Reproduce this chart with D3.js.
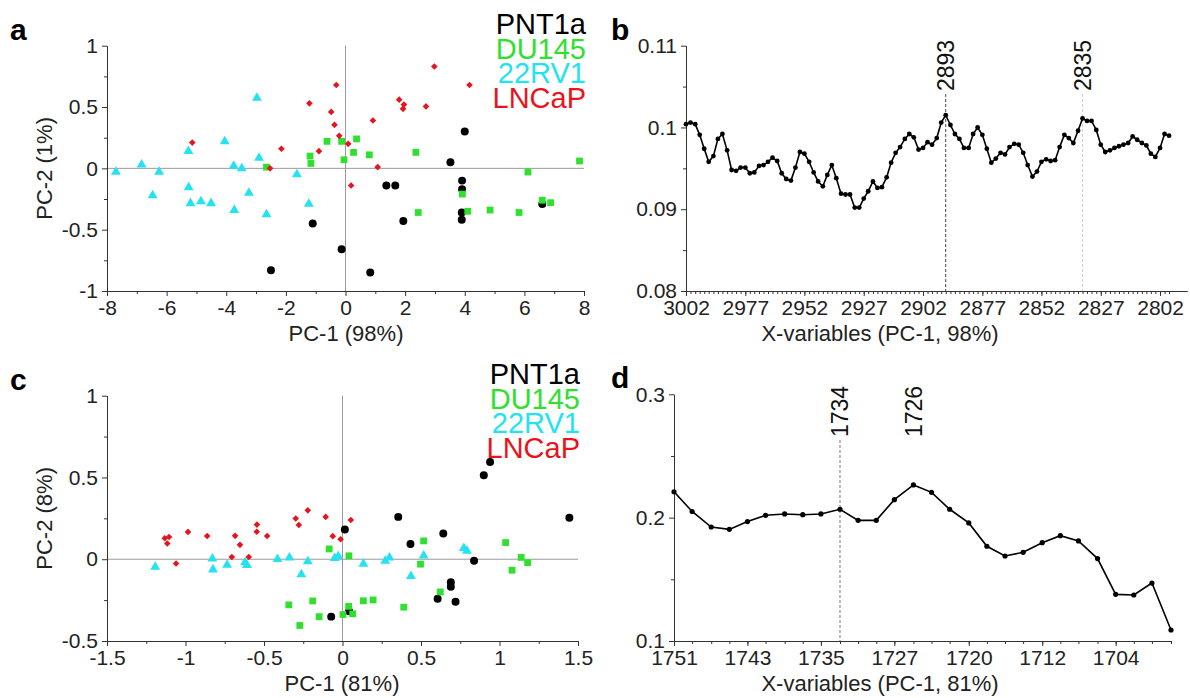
<!DOCTYPE html>
<html>
<head>
<meta charset="utf-8">
<script src="https://cdn.jsdelivr.net/npm/d3@7"></script>
<style>
  body { margin: 0; background: #fff; }
  text { font-family: Arial, "Liberation Sans", sans-serif; }
</style>
</head>
<body>
<svg id="fig" width="1190" height="698"></svg>
<script>
// ---------- data ----------
// panel a: PCA scores (PC-1 98%, PC-2 1%)
const aPNT1a = [[-2.5,-0.83],[-1.1,-0.45],[-0.13,-0.66],[0.83,-0.85],[1.37,-0.14],[1.67,-0.14],[1.94,-0.43],
  [3.52,0.05],[4.0,0.3],[3.91,-0.1],[3.91,-0.17],[3.9,-0.36],[3.9,-0.42],[6.6,-0.29]];
const aDU145 = [[-2.65,0.01],[-1.19,0.1],[-1.16,0.04],[-0.62,0.22],[-0.13,0.22],[-0.05,0.07],[0.27,0.13],[0.37,0.24],
  [0.8,0.11],[2.36,0.13],[2.44,-0.36],[3.92,-0.21],[4.1,-0.35],[4.85,-0.34],[5.82,-0.36],[6.12,-0.03],[6.6,-0.26],
  [6.88,-0.28],[7.85,0.06]];
const a22RV1 = [[-7.7,-0.03],[-6.84,0.03],[-6.25,-0.03],[-6.47,-0.22],[-5.27,0.14],[-5.26,-0.155],[-5.2,-0.285],
  [-4.85,-0.27],[-4.51,-0.285],[-4.05,0.22],[-3.75,0.02],[-3.48,0.0],[-3.73,-0.34],[-3.24,-0.2],[-2.97,0.575],
  [-2.9,0.085],[-2.65,-0.375],[-1.63,-0.05],[-1.23,-0.29]];
const aLNCaP = [[-5.14,0.21],[-2.53,0.0],[-2.15,0.16],[-1.21,0.53],[-0.89,0.14],[-0.48,0.46],[-0.37,0.355],[-0.31,0.68],
  [-0.21,0.265],[0.09,0.2],[0.19,-0.14],[0.92,0.39],[1.08,0.01],[1.8,0.56],[1.96,0.52],[1.93,0.485],[2.7,0.505],
  [2.98,0.83],[4.16,0.68]];

// panel c: PCA scores (PC-1 81%, PC-2 8%)
const cPNT1a = [[0.94,0.595],[0.9,0.513],[1.445,0.254],[0.355,0.259],[0.015,0.182],[0.642,0.158],[0.433,0.093],
  [0.838,-0.009],[0.69,-0.14],[0.69,-0.168],[0.606,-0.241],[0.72,-0.26],[-0.072,-0.351],[0.042,-0.318]];
const cDU145 = [[-0.085,0.063],[0.041,0.021],[0.517,0.112],[0.497,-0.03],[0.623,-0.2],[1.039,0.102],[1.08,-0.067],
  [1.138,0.011],[1.179,-0.021],[-0.342,-0.279],[-0.19,-0.255],[-0.272,-0.405],[-0.149,-0.351],[0.039,-0.288],
  [0.003,-0.338],[0.065,-0.334],[0.133,-0.254],[0.195,-0.249],[0.39,-0.293]];
const c22RV1 = [[-1.193,-0.047],[-0.829,0.003],[-0.825,-0.063],[-0.735,-0.035],[-0.621,-0.02],[-0.608,-0.036],
  [-0.414,0.0],[-0.338,0.01],[-0.262,-0.093],[-0.221,-0.014],[-0.05,0.007],[-0.027,0.019],[0.133,-0.028],
  [0.272,-0.01],[0.299,0.009],[0.436,-0.103],[0.517,0.022],[0.773,0.068],[0.793,0.051]];
const cLNCaP = [[-1.132,0.128],[-1.105,0.136],[-1.116,0.096],[-1.06,-0.026],[-0.984,0.167],[-0.862,0.142],
  [-0.684,0.143],[-0.653,0.088],[-0.705,0.014],[-0.597,0.014],[-0.545,0.212],[-0.546,0.168],[-0.48,0.142],
  [-0.298,0.249],[-0.278,0.209],[-0.221,0.299],[-0.107,0.259],[-0.062,0.141],[-0.012,0.122],[0.053,0.24]];

const groupNames = ["PNT1a", "DU145", "22RV1", "LNCaP"];

// panel b: loadings, 3002-2797 cm-1
const wnB = [3002.0,3000.1,2998.1,2996.2,2994.3,2992.4,2990.4,2988.5,2986.6,2984.6,2982.7,2980.8,2978.9,2976.9,
  2975.0,2973.1,2971.1,2969.2,2967.3,2965.4,2963.4,2961.5,2959.6,2957.6,2955.7,2953.8,2951.9,2949.9,2948.0,2946.1,
  2944.1,2942.2,2940.3,2938.4,2936.4,2934.5,2932.6,2930.6,2928.7,2926.8,2924.9,2922.9,2921.0,2919.1,2917.1,2915.2,
  2913.3,2911.4,2909.4,2907.5,2905.6,2903.6,2901.7,2899.8,2897.9,2895.9,2894.0,2892.1,2890.1,2888.2,2886.3,2884.4,
  2882.4,2880.5,2878.6,2876.6,2874.7,2872.8,2870.9,2868.9,2867.0,2865.1,2863.1,2861.2,2859.3,2857.4,2855.4,2853.5,
  2851.6,2849.6,2847.7,2845.8,2843.9,2841.9,2840.0,2838.1,2836.1,2834.2,2832.3,2830.4,2828.4,2826.5,2824.6,2822.6,
  2820.7,2818.8,2816.9,2814.9,2813.0,2811.1,2809.1,2807.2,2805.3,2803.4,2801.4,2799.5,2797.6];
const loadB = [0.1004,0.1006,0.1004,0.0991,0.0974,0.0958,0.0965,0.0986,0.0992,0.0972,0.0948,0.0947,0.0951,0.0951,
  0.0944,0.0945,0.0953,0.0954,0.0958,0.0963,0.0959,0.0944,0.0937,0.0935,0.0951,0.0970,0.0968,0.0958,
  0.0945,0.0934,0.0928,0.0942,0.0954,0.0938,0.0919,0.0918,0.0918,0.0902,0.0902,0.0913,0.0922,0.0934,0.0926,0.0927,
  0.0939,0.0957,0.0969,0.0976,0.0986,0.0992,0.0988,0.0973,0.0975,0.0982,
  0.0979,0.0987,0.1006,0.1015,0.1003,0.0992,0.0986,0.0975,0.0975,0.0992,0.1000,0.0991,0.0974,0.0957,0.0962,0.0969,
  0.0967,0.0976,0.0980,0.0979,0.0969,0.0954,0.0940,0.0946,0.0958,0.0961,
  0.0959,0.0960,0.0976,0.0991,0.0987,0.0981,0.0996,0.1011,0.1008,0.1008,0.0997,0.0979,0.0970,0.0972,0.0975,0.0977,
  0.0979,0.0981,0.0989,0.0985,0.0981,0.0978,0.0968,0.0964,0.0975,0.0992,0.0990];
const tickWnB = [3002.0, 2976.9, 2951.9, 2926.8, 2901.7, 2876.6, 2851.6, 2826.5, 2801.4];
const tickLabelB = ["3002","2977","2952","2927","2902","2877","2852","2827","2802"];
const peakWnB = [2892.1, 2834.2];
const peakLabelB = ["2893", "2835"];

// panel d: loadings, 1751-1699 cm-1
const wnD = [1751.0,1749.1,1747.1,1745.2,1743.3,1741.4,1739.4,1737.5,1735.6,1733.6,1731.7,1729.8,1727.9,1725.9,
  1724.0,1722.1,1720.1,1718.2,1716.3,1714.4,1712.4,1710.5,1708.6,1706.6,1704.7,1702.8,1700.9,1698.9];
const loadD = [0.221,0.205,0.1924,0.1905,0.1968,0.2019,0.203,0.2024,0.203,0.2068,0.1978,0.1978,0.2146,0.2265,
  0.2205,0.2068,0.1957,0.1768,0.1689,0.1719,0.1797,0.1854,0.1811,0.1668,0.1378,0.1373,0.147,0.1089];
const tickWnD = [1751.0, 1743.3, 1735.6, 1727.9, 1720.1, 1712.4, 1704.7];
const tickLabelD = ["1751","1743","1735","1727","1720","1712","1704"];
const peakWnD = [1733.6, 1725.9];
const peakLabelD = ["1734", "1726"];

// ---------- drawing ----------
const svg = d3.select("#fig");
const colors = ["#000000", "#2fe02f", "#25e2f0", "#e8141c"];
const symbols = [d3.symbolCircle, d3.symbolSquare, d3.symbolTriangle, d3.symbolSquare];
const symSizes = [50, 46, 42, 22];
const fmt = d => String(d);

function styleAxis(sel, fontSize) {
  sel.select(".domain").attr("stroke", "#333");
  sel.selectAll(".tick line").attr("stroke", "#333");
  sel.selectAll(".tick text").attr("fill", "#222").style("font-size", fontSize + "px");
}

function drawAxes(g, x, y, o) {
  const gx = g.append("g").attr("transform", `translate(0,${o.bottom})`)
    .call(d3.axisBottom(x).tickValues(o.xTicks).tickSize(5).tickSizeOuter(0).tickPadding(4)
      .tickFormat(o.xFmt || fmt));
  styleAxis(gx, 21);
  const gxm = g.append("g").attr("transform", `translate(0,${o.bottom})`)
    .call(d3.axisBottom(x).tickValues(o.xMinor).tickSize(3).tickSizeOuter(0).tickFormat(""));
  styleAxis(gxm, 21);
  const gy = g.append("g").attr("transform", `translate(${o.left},0)`)
    .call(d3.axisLeft(y).tickValues(o.yTicks).tickSize(5).tickSizeOuter(0).tickPadding(4).tickFormat(fmt));
  styleAxis(gy, 21);
  const gym = g.append("g").attr("transform", `translate(${o.left},0)`)
    .call(d3.axisLeft(y).tickValues(o.yMinor).tickSize(3).tickSizeOuter(0).tickFormat(""));
  styleAxis(gym, 21);

  // axis titles
  g.append("text").attr("x", o.xTitleX).attr("y", o.bottom + 50)
    .attr("text-anchor", "middle").style("font-size", "22px").attr("fill", "#222").text(o.xTitle);
  if (o.yTitle) {
    g.append("text")
      .attr("transform", `translate(${o.left - 55},${(o.top + o.bottom) / 2}) rotate(-90)`)
      .attr("text-anchor", "middle").style("font-size", "22px").attr("fill", "#222").text(o.yTitle);
  }
  // panel letter
  g.append("text").attr("x", o.letterX).attr("y", o.top - 6)
    .style("font-size", "30px").style("font-weight", "bold").text(o.letter);
}

function drawScatter(o) {
  const g = svg.append("g");
  const x = d3.scaleLinear().domain(o.xDomain).range([o.left, o.right]);
  const y = d3.scaleLinear().domain(o.yDomain).range([o.bottom, o.top]);

  // zero reference lines
  g.append("line").attr("x1", x(0)).attr("x2", x(0)).attr("y1", o.top).attr("y2", o.bottom)
    .attr("stroke", "#9a9a9a").attr("stroke-width", 1);
  g.append("line").attr("x1", o.left).attr("x2", o.right).attr("y1", y(0)).attr("y2", y(0))
    .attr("stroke", "#9a9a9a").attr("stroke-width", 1);

  drawAxes(g, x, y, o);

  o.series.forEach((pts, k) => {
    g.append("g").selectAll("path").data(pts).join("path")
      .attr("d", d3.symbol().type(symbols[k]).size(symSizes[k]))
      .attr("transform", d => `translate(${x(d[0])},${y(d[1])})` + (k === 3 ? " rotate(45)" : ""))
      .attr("fill", colors[k]);
  });

  // legend
  g.append("g").selectAll("text").data(groupNames).join("text")
    .attr("x", o.right + 2).attr("y", (d, i) => o.legendY + i * 24.5)
    .attr("text-anchor", "end").style("font-size", "29px")
    .attr("fill", (d, i) => colors[i]).text(d => d);
}

function drawLoadings(o) {
  const g = svg.append("g");
  const x = d3.scaleLinear().domain(o.xDomain).range([o.left, o.right]);
  const y = d3.scaleLinear().domain(o.yDomain).range([o.bottom, o.top]);

  drawAxes(g, x, y, o);

  // marked peaks
  o.peakWn.forEach((wn, i) => {
    g.append("line").attr("x1", x(wn)).attr("x2", x(wn)).attr("y1", o.peakTextY + 3).attr("y2", o.bottom)
      .attr("stroke", o.peakColors[i]).attr("stroke-width", 1).attr("stroke-dasharray", "3,2");
    g.append("text")
      .attr("transform", `translate(${x(wn)},${o.peakTextY}) rotate(-90)`)
      .attr("dy", "0.36em").style("font-size", "23px").attr("fill", "#111").text(o.peakLabels[i]);
  });

  const pts = o.wn.map((w, i) => [w, o.vals[i]]);
  g.append("path").datum(pts)
    .attr("d", d3.line().x(d => x(d[0])).y(d => y(d[1])))
    .attr("fill", "none").attr("stroke", "#000").attr("stroke-width", 1.6);
  g.append("g").selectAll("circle").data(pts).join("circle")
    .attr("cx", d => x(d[0])).attr("cy", d => y(d[1])).attr("r", o.dotR).attr("fill", "#000");
}

// a
drawScatter({
  series: [aPNT1a, aDU145, a22RV1, aLNCaP],
  xDomain: [-8, 8], yDomain: [-1, 1], left: 107, right: 584, top: 45.7, bottom: 291,
  xTicks: [-8, -6, -4, -2, 0, 2, 4, 6, 8], xMinor: [-7, -5, -3, -1, 1, 3, 5, 7],
  yTicks: [-1, -0.5, 0, 0.5, 1], yMinor: [-0.75, -0.25, 0.25, 0.75],
  xTitle: "PC-1 (98%)", xTitleX: 346, yTitle: "PC-2 (1%)",
  letter: "a", letterX: 10, legendY: 34
});

// c
drawScatter({
  series: [cPNT1a, cDU145, c22RV1, cLNCaP],
  xDomain: [-1.5, 1.5], yDomain: [-0.5, 1], left: 107, right: 578, top: 395.7, bottom: 641,
  xTicks: [-1.5, -1, -0.5, 0, 0.5, 1, 1.5], xMinor: [-1.25, -0.75, -0.25, 0.25, 0.75, 1.25],
  yTicks: [-0.5, 0, 0.5, 1], yMinor: [-0.25, 0.25, 0.75],
  xTitle: "PC-1 (81%)", xTitleX: 342, yTitle: "PC-2 (8%)",
  letter: "c", letterX: 10, legendY: 384
});

// b
drawLoadings({
  wn: wnB, vals: loadB,
  xDomain: [3002, 2790], yDomain: [0.08, 0.11], left: 686, right: 1187, top: 45.7, bottom: 291,
  xTicks: tickWnB, xMinor: wnB, xFmt: (d, i) => tickLabelB[i],
  yTicks: [0.08, 0.09, 0.1, 0.11], yMinor: [0.085, 0.095, 0.105],
  xTitle: "X-variables (PC-1, 98%)", xTitleX: 880,
  letter: "b", letterX: 611,
  peakWn: peakWnB, peakLabels: peakLabelB, peakColors: ["#444", "#cfcfcf"], peakTextY: 91,
  dotR: 2.4
});

// d
drawLoadings({
  wn: wnD, vals: loadD,
  xDomain: [1751, 1698.9], yDomain: [0.1, 0.3], left: 674, right: 1171, top: 394.3, bottom: 641,
  xTicks: tickWnD, xMinor: wnD, xFmt: (d, i) => tickLabelD[i],
  yTicks: [0.1, 0.2, 0.3], yMinor: [0.15, 0.25],
  xTitle: "X-variables (PC-1, 81%)", xTitleX: 880,
  letter: "d", letterX: 611,
  peakWn: peakWnD, peakLabels: peakLabelD, peakColors: ["#777", "none"], peakTextY: 437,
  dotR: 2.6
});
</script>
</body>
</html>
